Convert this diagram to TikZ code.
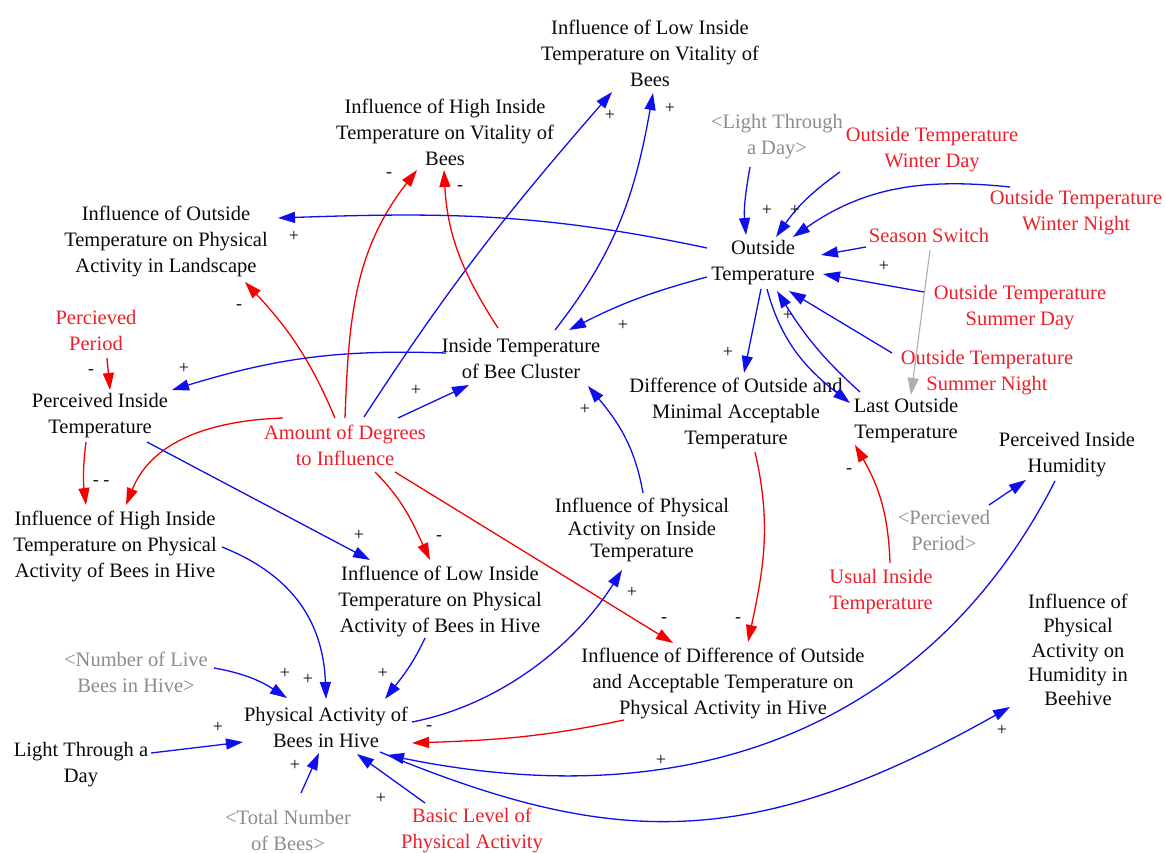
\documentclass[tikz,border=0pt]{standalone}
\usepackage{fontspec}
\setmainfont{Liberation Serif}
\usetikzlibrary{arrows.meta}
\definecolor{lblue}{RGB}{15,15,235}
\definecolor{lred}{RGB}{245,0,0}
\definecolor{lgray}{RGB}{175,175,175}
\definecolor{tred}{RGB}{240,30,40}
\definecolor{tgray}{RGB}{140,140,140}
\definecolor{tblack}{RGB}{10,10,10}
\newcommand\vfs{\fontsize{20.5}{26}\selectfont}
\newcommand\vfsa{\fontsize{20.5}{22.5}\selectfont}
\newcommand\vfsb{\fontsize{20.5}{24.3}\selectfont}
\newcommand\sfs{\fontsize{18}{18}\selectfont}
\tikzset{
  vname/.style={align=center, inner sep=0pt, font=\vfs, text=tblack},
  vred/.style={vname, text=tred},
  vgray/.style={vname, text=tgray},
  sgn/.style={inner sep=0pt, font=\sfs, text=tblack},
  lk/.style={line width=1.3pt, -{Triangle[length=17pt,width=11pt]}},
  bl/.style={lk, draw=lblue},
  rl/.style={lk, draw=lred},
  gl/.style={lk, draw=lgray, line width=1.1pt},
}
\begin{document}
\begin{tikzpicture}[x=1pt,y=1pt]
\fill[white] (0,0) rectangle (1166,-853);
\path[use as bounding box] (0,0) rectangle (1166,-853);

% ---------- variables ----------
\node[vname] (ILV) at (650,-53) {Influence of Low Inside\\Temperature on Vitality of\\Bees};
\node[vname] (IHV) at (445,-132) {Influence of High Inside\\Temperature on Vitality of\\Bees};
\node[vname] (IOL) at (166,-241) {Influence of Outside\\Temperature on Physical\\Activity in Landscape};
\node[vgray] (LTDg) at (777,-137) {<Light Through\\a Day>};
\node[vred] (OTWD) at (932,-150) {Outside Temperature\\Winter Day};
\node[vred] (OTWN) at (1076,-213) {Outside Temperature\\Winter Night};
\node[vred] (SS) at (929,-235) {Season Switch};
\node[vname] (OT) at (763,-263) {Outside\\Temperature};
\node[vred] (OTSD) at (1020,-308) {Outside Temperature\\Summer Day};
\node[vred] (OTSN) at (987,-373) {Outside Temperature\\Summer Night};
\node[vred] (PP) at (96,-330) {Percieved\\Period};
\node[vname] (PIT) at (100,-416) {Perceived Inside\\Temperature};
\node[vname] (ITC) at (521,-358) {Inside Temperature\\of Bee Cluster};
\node[vname] (DMT) at (736,-413) {Difference of Outside and\\Minimal Acceptable\\Temperature};
\node[vname] (LOT) at (906,-421) {Last Outside\\Temperature};
\node[vred] (AD) at (345,-445) {Amount of Degrees\\to Influence};
\node[vname] (PIH) at (1067,-455) {Perceived Inside\\Humidity};
\node[vgray] (PPg) at (944,-530) {<Percieved\\Period>};
\node[vname, font=\vfsa] (IPT) at (642,-530) {Influence of Physical\\Activity on Inside\\Temperature};
\node[vname] (IHP) at (115,-546) {Influence of High Inside\\Temperature on Physical\\Activity of Bees in Hive};
\node[vred] (UIT) at (881,-592) {Usual Inside\\Temperature};
\node[vname] (ILP) at (440,-601) {Influence of Low Inside\\Temperature on Physical\\Activity of Bees in Hive};
\node[vname, font=\vfsb] (IPH) at (1078,-650) {Influence of\\Physical\\Activity on\\Humidity in\\Beehive};
\node[vname] (IDP) at (723,-683) {Influence of Difference of Outside\\and Acceptable Temperature on\\Physical Activity in Hive};
\node[vgray] (NLB) at (136,-672) {<Number of Live\\Bees in Hive>};
\node[vname] (PA) at (326,-727) {Physical Activity of\\Bees in Hive};
\node[vname] (LTD) at (81,-765) {Light Through a\\Day};
\node[vgray] (TNB) at (288,-830) {<Total Number\\of Bees>};
\node[vred] (BL) at (472,-830) {Basic Level of\\Physical Activity};

% ---------- links ----------
\draw[bl] ([shift={(19,28)}]AD.center) to[out=57,in=229] ([shift={(-38,-39)}]ILV.center);
\draw[bl] ([shift={(34,28)}]ITC.center) to[out=52,in=-100] ([shift={(3,-40)}]ILV.center);
\draw[rl] ([shift={(0,27)}]AD.center) to[out=88,in=232] ([shift={(-28,-38)}]IHV.center);
\draw[rl] ([shift={(-23,30)}]ITC.center) to[out=123,in=-87] ([shift={(-1,-38)}]IHV.center);
\draw[bl] ([shift={(-56,15)}]OT.center) to[out=168,in=2] ([shift={(112,23)}]IOL.center);
\draw[rl] ([shift={(-10,27)}]AD.center) to[out=113,in=-47] ([shift={(79,-41)}]IOL.center);
\draw[bl] ([shift={(-27,-30)}]LTDg.center) to[out=-100,in=95] ([shift={(-17,28)}]OT.center);
\draw[bl] ([shift={(-92,-22)}]OTWD.center) to[out=215,in=55] ([shift={(13,26)}]OT.center);
\draw[bl] ([shift={(-66,26)}]OTWN.center) to[out=174,in=35] ([shift={(30,26)}]OT.center);
\draw[bl] ([shift={(-63,-12)}]SS.center) -- ([shift={(58,8)}]OT.center);
\draw[bl] ([shift={(-96,16)}]OTSD.center) -- ([shift={(60,-11)}]OT.center);
\draw[bl] ([shift={(-95,20)}]OTSN.center) -- ([shift={(26,-28)}]OT.center);
\draw[bl] ([shift={(-46,29)}]LOT.center) to[out=138,in=-58] ([shift={(14,-28)}]OT.center);
\draw[bl] ([shift={(4,-26)}]OT.center) to[out=-75,in=142] ([shift={(-56,18)}]LOT.center);
\draw[bl] ([shift={(-2,-26)}]OT.center) -- ([shift={(8,40)}]DMT.center);
\draw[bl] ([shift={(-56,-14)}]OT.center) to[out=195,in=27] ([shift={(48,28)}]ITC.center);
\draw[gl] ([shift={(1,-15)}]SS.center) -- ([shift={(5,26)}]LOT.center);
\draw[bl] ([shift={(-75,5)}]ITC.center) to[out=178,in=17] ([shift={(72,26)}]PIT.center);
\draw[rl] ([shift={(11,-28)}]PP.center) -- ([shift={(10,26)}]PIT.center);
\draw[bl] ([shift={(53,27)}]AD.center) -- ([shift={(-52,-27)}]ITC.center);
\draw[bl] ([shift={(1,37)}]IPT.center) to[out=100,in=-50] ([shift={(67,-28)}]ITC.center);
\draw[rl] ([shift={(-14,-26)}]PIT.center) to[out=-97,in=97] ([shift={(-29,41)}]IHP.center);
\draw[rl] ([shift={(-62,27)}]AD.center) to[out=182,in=68] ([shift={(11,41)}]IHP.center);
\draw[bl] ([shift={(47,-26)}]PIT.center) -- ([shift={(-70,41)}]ILP.center);
\draw[rl] ([shift={(30,-27)}]AD.center) to[out=-45,in=115] ([shift={(-10,41)}]ILP.center);
\draw[rl] ([shift={(50,-27)}]AD.center) -- ([shift={(-50,40)}]IDP.center);
\draw[rl] ([shift={(19,-39)}]DMT.center) to[out=-77,in=78] ([shift={(25,41)}]IDP.center);
\draw[rl] ([shift={(9,29)}]UIT.center) to[out=92,in=-60] ([shift={(-51,-24)}]LOT.center);
\draw[bl] ([shift={(45,25)}]PPg.center) -- ([shift={(-41,-25)}]PIH.center);
\draw[bl] ([shift={(-12,-26)}]PIH.center) .. controls (951,-686) and (740,-827) .. ([shift={(61,-28)}]PA.center);
\draw[bl] ([shift={(54,-25)}]PA.center) .. controls (610,-847) and (749,-854) .. ([shift={(-68,-57)}]IPH.center);
\draw[bl] ([shift={(86,5)}]PA.center) .. controls (500,-705) and (575,-645) .. ([shift={(-20,-40)}]IPT.center);
\draw[bl] ([shift={(107,-1)}]IHP.center) .. controls (285,-572) and (323,-615) .. ([shift={(0,28)}]PA.center);
\draw[bl] ([shift={(-15,-37)}]ILP.center) to[out=-115,in=52] ([shift={(59,28)}]PA.center);
\draw[bl] ([shift={(78,4)}]NLB.center) to[out=-10,in=147] ([shift={(-39,29)}]PA.center);
\draw[bl] ([shift={(70,12)}]LTD.center) -- ([shift={(-83,-15)}]PA.center);
\draw[bl] ([shift={(13,37)}]TNB.center) -- ([shift={(-7,-26)}]PA.center);
\draw[bl] ([shift={(-47,27)}]BL.center) -- ([shift={(31,-27)}]PA.center);
\draw[rl] ([shift={(-99,-37)}]IDP.center) to[out=192,in=2] ([shift={(86,-16)}]PA.center);

% ---------- polarities ----------
\node[sgn] (s1) at (610,-115) {+};
\node[sgn] (s2) at (670,-108) {+};
\node[sgn] (s3) at (389,-175) {-};
\node[sgn] (s4) at (460,-188) {-};
\node[sgn] (s5) at (294,-236) {+};
\node[sgn] (s6) at (239,-307) {-};
\node[sgn] (s7) at (767,-210) {+};
\node[sgn] (s8) at (795,-210) {+};
\node[sgn] (s9) at (884,-266) {+};
\node[sgn] (s10) at (788,-315) {+};
\node[sgn] (s11) at (623,-325) {+};
\node[sgn] (s12) at (728,-352) {+};
\node[sgn] (s13) at (91,-372) {-};
\node[sgn] (s14) at (184,-368) {+};
\node[sgn] (s15) at (416,-390) {+};
\node[sgn] (s16) at (585,-409) {+};
\node[sgn] (s17) at (101,-483) {- -};
\node[sgn] (s18) at (849,-471) {-};
\node[sgn] (s19) at (359,-535) {+};
\node[sgn] (s20) at (439,-538) {-};
\node[sgn] (s21) at (632,-592) {+};
\node[sgn] (s22) at (664,-620) {-};
\node[sgn] (s23) at (738,-620) {-};
\node[sgn] (s24) at (285,-673) {+};
\node[sgn] (s25) at (308,-679) {+};
\node[sgn] (s26) at (383,-673) {+};
\node[sgn] (s27) at (218,-727) {+};
\node[sgn] (s28) at (295,-765) {+};
\node[sgn] (s29) at (381,-798) {+};
\node[sgn] (s30) at (429,-728) {-};
\node[sgn] (s31) at (661,-760) {+};
\node[sgn] (s32) at (1002,-730) {+};
\end{tikzpicture}
\end{document}
